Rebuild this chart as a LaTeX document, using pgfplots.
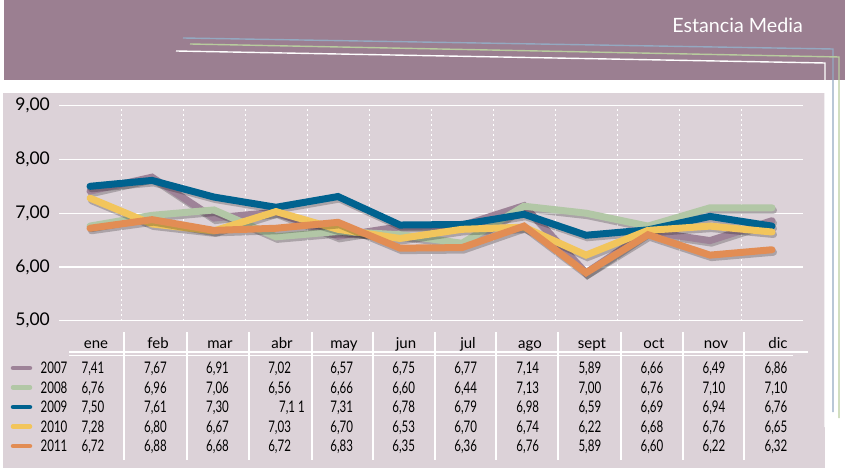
\documentclass[border=0pt]{standalone}
\usepackage{pgfplots}
\pgfplotsset{compat=1.18}
\usepackage{pgfplotstable}
\usepackage{fontspec}
\setmainfont{Lato}
\newfontfamily\tabfont[FakeStretch=0.72]{Lato}
\definecolor{hdr}{HTML}{9B7F91}
\definecolor{panel}{HTML}{DCD2D8}
\definecolor{cA}{HTML}{9E8398}
\definecolor{cB}{HTML}{B2C7A6}
\definecolor{cC}{HTML}{00628F}
\definecolor{cD}{HTML}{F2C55C}
\definecolor{cE}{HTML}{E28D54}
\definecolor{decoBlue}{HTML}{94A9C1}
\definecolor{decoGreen}{HTML}{B8CC9E}

\pgfplotstableread{
m a b c d e
0 7.41 6.76 7.50 7.28 6.72
1 7.67 6.96 7.61 6.80 6.88
2 6.91 7.06 7.30 6.67 6.68
3 7.02 6.56 7.11 7.03 6.72
4 6.57 6.66 7.31 6.70 6.83
5 6.75 6.60 6.78 6.53 6.35
6 6.77 6.44 6.79 6.70 6.36
7 7.14 7.13 6.98 6.74 6.76
8 5.89 7.00 6.59 6.22 5.89
9 6.66 6.76 6.69 6.68 6.60
10 6.49 7.10 6.94 6.76 6.22
11 6.86 7.10 6.76 6.65 6.32
}\data

\begin{document}
\begin{tikzpicture}[x=1pt,y=1pt]
\useasboundingbox (0,0) rectangle (845,471);
\fill[hdr] (4,391) rectangle (845,471);
\fill[panel] (3,3) rectangle (825,378);
\node[anchor=base east, white, inner sep=0pt, font=\fontsize{19.7}{21}\selectfont] at (803,438) {Estancia Media};
\draw[decoBlue, line width=1.4pt] (183,433) -- (833,422) -- (833,59);
\draw[decoGreen, line width=1.4pt] (190,427) -- (839,414) -- (839,53);
\draw[white, line width=1.4pt] (176,420) -- (825,408) -- (825,44);

\begin{axis}[at={(59pt,150.3pt)}, anchor=south west, width=744pt, height=215pt,
  scale only axis, clip=false,
  xmin=-0.5, xmax=11.5, ymin=5, ymax=9,
  axis line style={draw=none},
  major tick length=0pt, minor tick length=0pt,
  xtick={0,...,11},
  xticklabels={ene,feb,mar,abr,may,jun,jul,ago,sept,oct,nov,dic},
  minor xtick={0.5,1.5,2.5,3.5,4.5,5.5,6.5,7.5,8.5,9.5,10.5},
  ytick={5,6,7,8,9},
  yticklabels={{5,00},{6,00},{7,00},{8,00},{9,00}},
  ymajorgrids, xminorgrids,
  major grid style={white, line width=1.3pt},
  minor grid style={white, line width=1pt, dash pattern=on 2pt off 3pt},
  xticklabel style={font=\fontsize{15}{17}\selectfont, anchor=base, inner sep=0pt, yshift=-27.5pt, xshift=6pt},
  yticklabel style={font=\fontsize{17.5}{19}\selectfont, anchor=east, inner sep=0pt, xshift=-9pt},
  shadow/.style={black, opacity=0.22, line width=7pt, line join=miter, line cap=round, xshift=1.5pt, yshift=-2.5pt},
  ser/.style={#1, line width=7pt, line join=miter, line cap=round},
]
\addplot[shadow] table[x=m,y=a]{\data};
\addplot[ser=cA] table[x=m,y=a]{\data};
\addplot[shadow] table[x=m,y=b]{\data};
\addplot[ser=cB] table[x=m,y=b]{\data};
\addplot[shadow] table[x=m,y=c]{\data};
\addplot[ser=cC] table[x=m,y=c]{\data};
\addplot[shadow] table[x=m,y=d]{\data};
\addplot[ser=cD] table[x=m,y=d]{\data};
\addplot[shadow] table[x=m,y=e]{\data};
\addplot[ser=cE] table[x=m,y=e]{\data};
\end{axis}

% table grid
\foreach \x in {124,187,249,312,373,435,496,558,621,683,744}
  \draw[white, line width=1.2pt] (\x,139) -- (\x,11);
\draw[white, line width=2pt] (69,119) -- (808,119);
\draw[white, line width=0.8pt] (69,115.3) -- (793,115.3);

% legend column
\foreach \c/\yr/\yy in {cA/2007/103, cB/2008/83.5, cC/2009/64, cD/2010/44.5, cE/2011/25}{
  \draw[\c, line width=4.5pt, line cap=round] (13,\yy) -- (30,\yy);
  \node[anchor=base, inner sep=0pt, font=\tabfont\fontsize{16}{18}\selectfont] at (54,\yy-5.8) {\yr};
}

% values
\foreach \yy/\vals in {103/{7{,}41,7{,}67,6{,}91,7{,}02,6{,}57,6{,}75,6{,}77,7{,}14,5{,}89,6{,}66,6{,}49,6{,}86},
                      83.5/{6{,}76,6{,}96,7{,}06,6{,}56,6{,}66,6{,}60,6{,}44,7{,}13,7{,}00,6{,}76,7{,}10,7{,}10},
                      64/{7{,}50,7{,}61,7{,}30,7{,}1 1,7{,}31,6{,}78,6{,}79,6{,}98,6{,}59,6{,}69,6{,}94,6{,}76},
                      44.5/{7{,}28,6{,}80,6{,}67,7{,}03,6{,}70,6{,}53,6{,}70,6{,}74,6{,}22,6{,}68,6{,}76,6{,}65},
                      25/{6{,}72,6{,}88,6{,}68,6{,}72,6{,}83,6{,}35,6{,}36,6{,}76,5{,}89,6{,}60,6{,}22,6{,}32}}{
  \foreach \v [count=\i from 0] in \vals {
    \pgfmathsetmacro\cx{\i==0 ? 93 : (\i==3 && \yy==64 ? 292 : 155.5+62.05*(\i-1))}
    \node[anchor=base, inner sep=0pt, font=\tabfont\fontsize{16}{18}\selectfont] at (\cx,\yy-5.8) {\v};
  }
}
\end{tikzpicture}
\end{document}
